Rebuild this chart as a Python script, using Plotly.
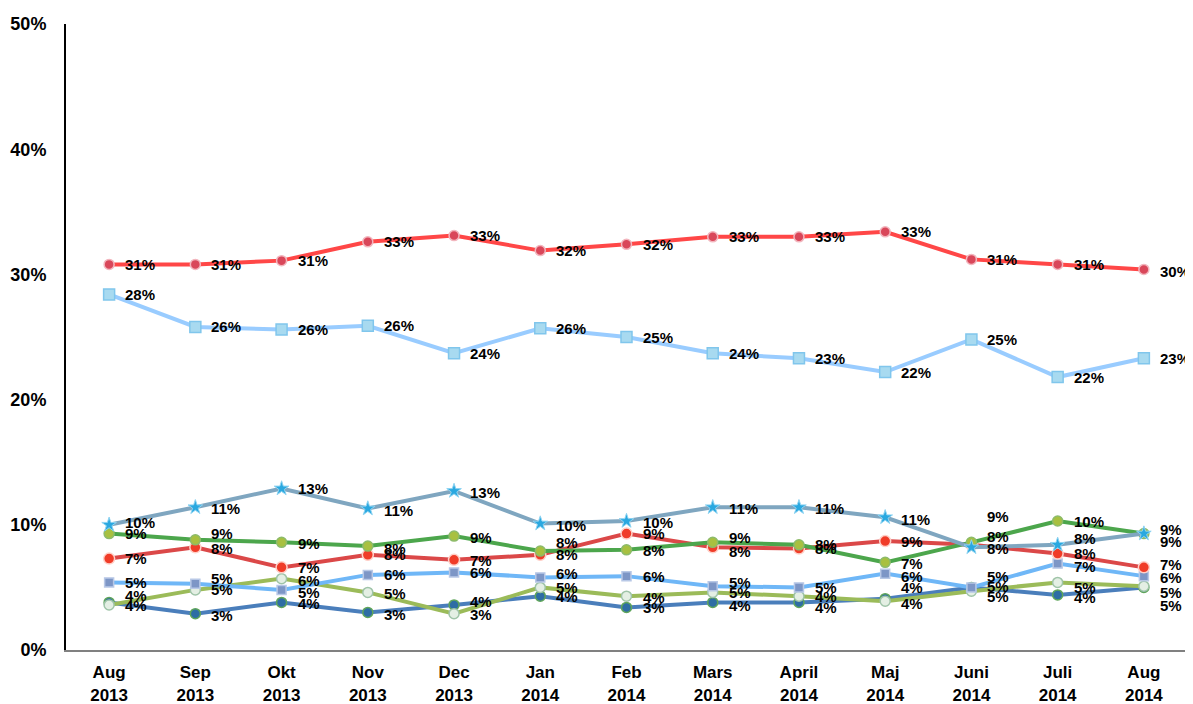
import plotly.graph_objects as go

months = ["Aug<br>2013", "Sep<br>2013", "Okt<br>2013", "Nov<br>2013", "Dec<br>2013",
          "Jan<br>2014", "Feb<br>2014", "Mars<br>2014", "April<br>2014", "Maj<br>2014",
          "Juni<br>2014", "Juli<br>2014", "Aug<br>2014"]

s_vals  = [30.8, 30.8, 31.1, 32.6, 33.1, 31.9, 32.4, 33.0, 33.0, 33.4, 31.2, 30.8, 30.4]
m_vals  = [28.4, 25.8, 25.6, 25.9, 23.7, 25.7, 25.0, 23.7, 23.3, 22.2, 24.8, 21.8, 23.3]
sd_vals = [10.0, 11.4, 12.9, 11.3, 12.7, 10.1, 10.3, 11.4, 11.4, 10.6, 8.2, 8.4, 9.3]
c_vals  = [9.3, 8.8, 8.6, 8.3, 9.1, 7.9, 8.0, 8.6, 8.4, 7.0, 8.6, 10.3, 9.3]
v_vals  = [7.3, 8.2, 6.6, 7.6, 7.2, 7.6, 9.3, 8.2, 8.1, 8.7, 8.4, 7.7, 6.6]
kd_vals = [5.4, 5.3, 4.8, 6.0, 6.2, 5.8, 5.9, 5.1, 5.0, 6.1, 5.0, 6.9, 5.9]
mp_vals = [3.6, 4.8, 5.7, 4.6, 2.9, 5.0, 4.3, 4.6, 4.3, 3.9, 4.7, 5.4, 5.1]
fp_vals = [3.8, 2.9, 3.8, 3.0, 3.6, 4.3, 3.4, 3.8, 3.8, 4.1, 5.0, 4.4, 5.0]

# vertical nudges of the value labels, in pixels (positive = down), as placed in the original
s_dy  = [0, 0, 0, 0, 0, 0, 0, 0, 0, 0, 0, 0, 2]
m_dy  = [0, 0, 0, 0, 0, 0, 0, 0, 0, 0, 0, 0, 0]
sd_dy = [-2, 1, 0, 2, 1, 2, 1, 1, 1, 2, 1, -6, 8]
c_dy  = [0, -6, 1, 2, 1, -9, 1, -5, 0, 1, -26, 0, -4]
v_dy  = [0, 1, 0, 0, 1, 0, 0, 4, 0, 0, -8, 0, -3]
kd_dy = [0, -5, 3, 0, 0, -4, 0, -4, 0, 3, -11, 3, 1]
mp_dy = [1, 0, 2, 1, 1, 0, 1, 0, 0, 2, -5, 5, 6]
fp_dy = [-7, 2, 1, 2, -3, 0, 0, 3, 5, -11, 9, 3, 18]

series = [
    ("FP", fp_vals, fp_dy, "#4A7EBB", dict(symbol="circle", color="#2E6DA4", size=10, line=dict(color="#5FA55A", width=1.5))),
    ("MP", mp_vals, mp_dy, "#9BBB59", dict(symbol="circle", color="#E4EFE4", size=10, line=dict(color="#9FC4A8", width=1.5))),
    ("KD", kd_vals, kd_dy, "#6FB7F7", dict(symbol="square", color="#7D96C6", size=9, line=dict(color="#B8C8E6", width=1.5))),
    ("V", v_vals, v_dy, "#DB4848", dict(symbol="circle", color="#F03C28", size=11, line=dict(color="#FFD0C8", width=1.5))),
    ("C", c_vals, c_dy, "#4CA64C", dict(symbol="circle", color="#A8C040", size=10, line=dict(color="#8DBB6A", width=1.5))),
    ("SD", sd_vals, sd_dy, "#7FA6C0", dict(symbol="star", color="#2AA8E0", size=11, line=dict(color="#8FD4F2", width=1))),
    ("M", m_vals, m_dy, "#99CCFF", dict(symbol="square", color="#A8DAF0", size=11, line=dict(color="#80C6EC", width=1.5))),
    ("S", s_vals, s_dy, "#FF4747", dict(symbol="circle", color="#D9475A", size=10, line=dict(color="#F2B6BE", width=1.5))),
]

LABEL_FONT = dict(family="Arial, Liberation Sans", size=15, color="black", weight="bold")

fig = go.Figure()
for name, vals, dys, lc, mk in series:
    fig.add_trace(go.Scatter(
        x=months, y=vals, name=name, mode="lines+markers",
        line=dict(color=lc, width=4),
        marker=mk,
        cliponaxis=False,
    ))
    for mo, v, dy in zip(months, vals, dys):
        fig.add_annotation(
            x=mo, y=v, xref="x", yref="y",
            text=f"{round(v)}%", showarrow=False,
            xanchor="left", yanchor="middle",
            xshift=15, yshift=-dy,
            font=LABEL_FONT, borderpad=0,
        )

fig.update_layout(
    width=1185, height=696,
    margin=dict(l=58, r=6, t=16, b=54),
    plot_bgcolor="white", paper_bgcolor="white",
    showlegend=False,
    font=dict(family="Arial, Liberation Sans", color="black"),
)
fig.update_xaxes(
    type="category", range=[-0.5, 12.5],
    showgrid=False, zeroline=False, automargin=False,
    showline=True, linecolor="#808080", linewidth=2,
    ticks="", tickfont=dict(size=17, weight="bold", family="Arial, Liberation Sans"),
    ticklabelstandoff=6,
)
fig.update_yaxes(
    range=[0, 50], dtick=10, ticksuffix="%",
    showgrid=False, zeroline=False, automargin=False,
    showline=True, linecolor="black", linewidth=2,
    ticks="", tickfont=dict(size=18, weight="bold", family="Arial, Liberation Sans"),
    ticklabelstandoff=14,
)

fig.write_html("out.html")
